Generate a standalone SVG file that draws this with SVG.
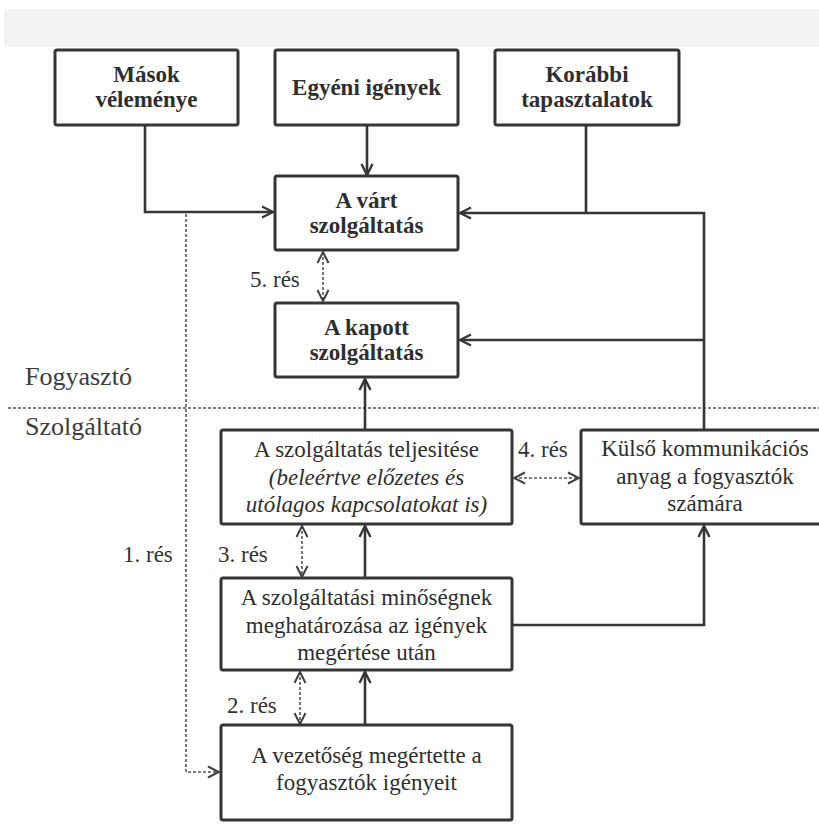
<svg xmlns="http://www.w3.org/2000/svg" width="819" height="832" viewBox="0 0 819 832">
  <style>
    .box { fill: #ffffff; stroke: #353535; stroke-width: 3; }
    .t { font-size: 23px; fill: #2e2e2e; text-anchor: middle; }
    .b { font-weight: bold; }
    .i { font-style: italic; }
    .lbl { font-size: 23px; fill: #333333; }
    .side { font-size: 26px; fill: #3c3c3c; }
    .solid { fill: none; stroke: #353535; stroke-width: 2.6; }
    .dash { fill: none; stroke: #555555; stroke-width: 1.6; stroke-dasharray: 3 2; }
  </style>
  <defs>
    <marker id="arr" viewBox="0 0 14 14" refX="12.5" refY="7" markerWidth="14" markerHeight="14" markerUnits="userSpaceOnUse" orient="auto-start-reverse">
      <path d="M1.5,1.5 L12.5,7 L1.5,12.5" fill="none" stroke="#353535" stroke-width="2.4"/>
    </marker>
    <marker id="arrd" viewBox="0 0 14 14" refX="12.5" refY="7" markerWidth="14" markerHeight="14" markerUnits="userSpaceOnUse" orient="auto-start-reverse">
      <path d="M1.5,1.5 L12.5,7 L1.5,12.5" fill="none" stroke="#404040" stroke-width="2"/>
    </marker>
  </defs>

  <rect width="819" height="832" fill="#ffffff"/>
  <!-- header band -->
  <rect x="4" y="9" width="815" height="38" fill="#f3f3f3"/>

  <g font-family="Liberation Serif, DejaVu Serif, serif">
  <!-- side labels -->
  <text class="side" x="25" y="385">Fogyasztó</text>
  <text class="side" x="25" y="435">Szolgáltató</text>

  <!-- connectors -->
  <g id="connectors">
    <path class="dash" d="M8,408 H819"/>
    <path class="dash" d="M186,214 V772 H219" marker-end="url(#arrd)"/>
    <path class="solid" d="M367,125 V175" marker-end="url(#arr)"/>
    <path class="solid" d="M145,125 V212 H273" marker-end="url(#arr)"/>
    <path class="solid" d="M586,125 V213"/>
    <path class="solid" d="M704,429 V213 H460" marker-end="url(#arr)"/>
    <path class="solid" d="M704,340 H460" marker-end="url(#arr)"/>
    <path class="solid" d="M365,429 V379" marker-end="url(#arr)"/>
    <path class="solid" d="M365,577 V526" marker-end="url(#arr)"/>
    <path class="solid" d="M365,724 V672" marker-end="url(#arr)"/>
    <path class="solid" d="M513,625 H704 V526" marker-end="url(#arr)"/>
    <path class="dash" d="M323,252 V301" marker-start="url(#arrd)" marker-end="url(#arrd)"/>
    <path class="dash" d="M302,526 V577" marker-start="url(#arrd)" marker-end="url(#arrd)"/>
    <path class="dash" d="M300,672 V724" marker-start="url(#arrd)" marker-end="url(#arrd)"/>
    <path class="dash" d="M514,478 H579" marker-start="url(#arrd)" marker-end="url(#arrd)"/>
  </g>

  <!-- gap labels -->
  <g id="gap-labels">
    <text class="lbl" x="250" y="287">5. rés</text>
    <text class="lbl" x="518" y="457">4. rés</text>
    <text class="lbl" x="218" y="562">3. rés</text>
    <text class="lbl" x="123" y="562">1. rés</text>
    <text class="lbl" x="227" y="713">2. rés</text>
  </g>

  <g id="masok">
    <rect class="box" x="55" y="50" width="183" height="75" rx="2"/>
    <text class="t b" x="146.5" y="82">Mások</text>
    <text class="t b" x="146.5" y="107">véleménye</text>
  </g>
  <g id="egyeni">
    <rect class="box" x="275" y="50" width="183" height="75" rx="2"/>
    <text class="t b" x="366.5" y="95">Egyéni igények</text>
  </g>
  <g id="korabbi">
    <rect class="box" x="495" y="50" width="184" height="75" rx="2"/>
    <text class="t b" x="587" y="82">Korábbi</text>
    <text class="t b" x="587" y="107">tapasztalatok</text>
  </g>
  <g id="vart">
    <rect class="box" x="275" y="176" width="183" height="74" rx="2"/>
    <text class="t b" x="366.5" y="208">A várt</text>
    <text class="t b" x="366.5" y="233">szolgáltatás</text>
  </g>
  <g id="kapott">
    <rect class="box" x="275" y="303" width="183" height="74" rx="2"/>
    <text class="t b" x="366.5" y="335">A kapott</text>
    <text class="t b" x="366.5" y="360">szolgáltatás</text>
  </g>
  <g id="teljesites">
    <rect class="box" x="221" y="430" width="291" height="94" rx="2"/>
    <text class="t" x="366.5" y="457">A szolgáltatás teljesitése</text>
    <text class="t i" x="366.5" y="485">(beleértve előzetes és</text>
    <text class="t i" x="366.5" y="512">utólagos kapcsolatokat is)</text>
  </g>
  <g id="kulso">
    <rect class="box" x="581" y="430" width="250" height="94" rx="2"/>
    <text class="t" x="705" y="456">Külső kommunikációs</text>
    <text class="t" x="705" y="484">anyag a fogyasztók</text>
    <text class="t" x="705" y="511">számára</text>
  </g>
  <g id="minoseg">
    <rect class="box" x="221" y="578" width="291" height="92" rx="2"/>
    <text class="t" x="366.5" y="605">A szolgáltatási minőségnek</text>
    <text class="t" x="366.5" y="633">meghatározása az igények</text>
    <text class="t" x="366.5" y="660">megértése után</text>
  </g>
  <g id="vezetoseg">
    <rect class="box" x="221" y="725" width="291" height="95" rx="2"/>
    <text class="t" x="366.5" y="763">A vezetőség megértette a</text>
    <text class="t" x="366.5" y="790">fogyasztók igényeit</text>
  </g>
  </g>
</svg>
